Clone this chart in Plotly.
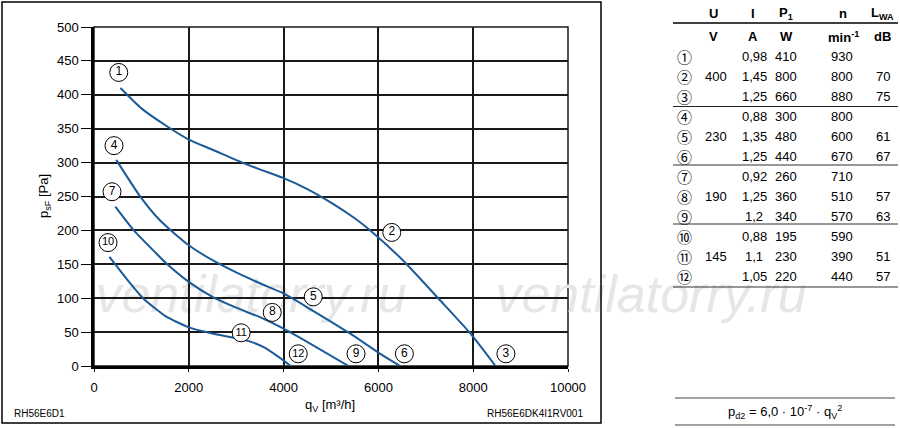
import plotly.graph_objects as go

# Fan curves (q in m3/h, p in Pa)
q_400 = [558, 1000, 1530, 2000, 2500, 3130, 3500, 4000, 4500, 5000, 5500, 5830, 6500, 7300, 7940, 8470]
p_400 = [410, 380, 354, 334, 319, 300, 290, 277, 261, 241, 218, 200, 157, 97, 48, 0]
q_230 = [470, 965, 1390, 2000, 2500, 3000, 3500, 4000, 4560, 5400, 6040, 6460]
p_230 = [304, 251, 215, 178, 156, 138, 122, 107, 84, 48, 18, 0]
q_190 = [450, 840, 1300, 1500, 2000, 2500, 3000, 3500, 4000, 4560, 5370]
p_190 = [235, 200, 167, 153, 124, 102, 86, 72, 55, 33, 0]
q_145 = [325, 450, 740, 1035, 1500, 2000, 2500, 3000, 3300, 3600, 3900, 4150]
p_145 = [161, 150, 124, 100, 74, 57, 48, 41, 36, 27, 13, 0]

# circled operating point labels
label_text = ["1", "2", "3", "4", "5", "6", "7", "8", "9", "10", "11", "12"]
label_q = [522, 6282, 8690, 422, 4626, 6548, 380, 3760, 5528, 296, 3105, 4309]
label_p = [433, 197, 18, 325, 102, 18, 257, 79, 18, 182, 49, 18]

# table
col_head1 = ["<b>U</b>", "<b>I</b>", "<b>P<sub>1</sub></b>", "<b>n</b>", "<b>L<sub>WA</sub></b>"]
col_head2 = ["<b>V</b>", "<b>A</b>", "<b>W</b>", "<b>min<sup>-1</sup></b>", "<b>dB</b>"]
row_marks = ["①", "②", "③", "④", "⑤", "⑥", "⑦", "⑧", "⑨", "⑩", "⑪", "⑫"]
u_vals = ["400", "230", "190", "145"]
i_vals = ["0,98", "1,45", "1,25", "0,88", "1,35", "1,25", "0,92", "1,25", "1,2", "0,88", "1,1", "1,05"]
p1_vals = ["410", "800", "660", "300", "480", "440", "260", "360", "340", "195", "230", "220"]
n_vals = ["930", "800", "880", "800", "600", "670", "710", "510", "570", "590", "390", "440"]
l_vals = ["", "70", "75", "", "61", "67", "", "57", "63", "", "51", "57"]

FONT = "Liberation Sans, Arial, Helvetica, sans-serif"
BLUE = "#1b5a98"

# plot area in pixels: l=94, r=568, t=27, b=366
def px_x(px):
    return (px - 94) / 474


def px_y(py):
    return (366 - py) / 339


fig = go.Figure()
for qs, ps in [(q_400, p_400), (q_230, p_230), (q_190, p_190), (q_145, p_145)]:
    fig.add_trace(
        go.Scatter(
            x=qs, y=ps, mode="lines",
            line=dict(color=BLUE, width=2, shape="spline", smoothing=0.6),
            hoverinfo="skip",
        )
    )

fig.add_trace(
    go.Scatter(
        x=label_q, y=label_p, mode="markers+text", text=label_text,
        textposition="middle center",
        textfont=dict(family=FONT, size=[12 if len(t) == 1 else 11 for t in label_text], color="black"),
        marker=dict(symbol="circle", size=18, color="white", line=dict(color="black", width=1)),
        cliponaxis=False, hoverinfo="skip",
    )
)

annotations = []


def add_text(px, py, text, size=13, xanchor="center", family=FONT, angle=0):
    annotations.append(
        dict(
            x=px_x(px), y=px_y(py), xref="paper", yref="paper", text=text,
            showarrow=False, xanchor=xanchor, yanchor="middle", textangle=angle,
            font=dict(family=family, size=size, color="black"),
        )
    )


# axis titles and footer codes
add_text(44, 196, "p<sub>sF</sub> [Pa]", size=13, angle=-90)
add_text(330, 405, "q<sub>V</sub> [m³/h]", size=13)
add_text(12, 413, "RH56E6D1", size=10, xanchor="left")
add_text(585, 413, "RH56E6DK4I1RV001", size=10, xanchor="right")

# table
col_x = [716, 754, 786, 842, 883]
head_x = [713, 753, 786, 843, 882]
for hx, h1, h2 in zip(head_x, col_head1, col_head2):
    add_text(hx, 13, h1, size=13)
    add_text(hx, 37, h2, size=13)

row_y = [56 + i * 20.07 for i in range(12)]
for i, ry in enumerate(row_y):
    add_text(684, ry, row_marks[i], size=15, family="Noto Sans CJK JP")
    add_text(col_x[1], ry, i_vals[i], size=13)
    add_text(col_x[2], ry, p1_vals[i], size=13)
    add_text(col_x[3], ry, n_vals[i], size=13)
    if l_vals[i]:
        add_text(col_x[4], ry, l_vals[i], size=13)
for g, u in enumerate(u_vals):
    add_text(col_x[0], row_y[g * 3 + 1], u, size=13)

add_text(785, 412, "p<sub>d2</sub> = 6,0 · 10<sup>-7</sup> · q<sub>V</sub><sup>2</sup>", size=13)

shapes = [
    # outer frame of the diagram
    dict(type="rect", xref="paper", yref="paper", x0=px_x(2), x1=px_x(601),
         y0=px_y(2), y1=px_y(423), line=dict(color="black", width=1.5)),
    # plot border (top / right)
    dict(type="rect", xref="paper", yref="paper", x0=0, x1=1, y0=0, y1=1,
         line=dict(color="#1a1a1a", width=1.5), layer="below"),
]
# table rules
for ly, w, c in [(23, 1.3, "black"), (106.5, 1.2, "#222"), (165, 1.2, "#333"),
                 (224, 1.2, "#333"), (287, 1.2, "#333")]:
    shapes.append(dict(type="line", xref="paper", yref="paper", x0=px_x(673), x1=px_x(898),
                       y0=px_y(ly), y1=px_y(ly), line=dict(color=c, width=w)))
for ly in [398, 425]:
    shapes.append(dict(type="line", xref="paper", yref="paper", x0=px_x(675), x1=px_x(895),
                       y0=px_y(ly), y1=px_y(ly), line=dict(color="#444", width=1.2)))
# watermark
for cx in [251, 651]:
    shapes.append(dict(
        type="rect", xref="paper", yref="paper", x0=px_x(cx - 160), x1=px_x(cx + 160),
        y0=px_y(315), y1=px_y(262), line=dict(width=0), layer="below",
        label=dict(text="ventilatorry.ru", textposition="middle center",
                   font=dict(family=FONT, size=52, color="#e6e6e6", style="italic")),
    ))

fig.update_layout(
    width=900, height=428,
    margin=dict(l=94, r=332, t=27, b=62),
    paper_bgcolor="white", plot_bgcolor="white",
    showlegend=False,
    font=dict(family=FONT, size=13, color="black"),
    annotations=annotations, shapes=shapes,
    xaxis=dict(
        range=[0, 10000], dtick=2000, tick0=0, tickformat="d",
        showgrid=True, gridcolor="#1a1a1a", gridwidth=1.5, zeroline=False,
        showline=True, linecolor="black", linewidth=2.5,
        ticks="outside", ticklen=3, tickcolor="black", ticklabelstandoff=5,
        tickfont=dict(family=FONT, size=13), fixedrange=True,
    ),
    yaxis=dict(
        range=[0, 500], dtick=50, tick0=0,
        showgrid=True, gridcolor="#1a1a1a", gridwidth=1.5, zeroline=False,
        showline=True, linecolor="black", linewidth=2.5,
        ticks="outside", ticklen=10, tickwidth=1.3, tickcolor="black",
        tickfont=dict(family=FONT, size=13), fixedrange=True,
    ),
)

# drop the browser's default body margin so the figure sits at the page origin
fig.write_html(
    "out.html",
    config={"displayModeBar": False},
    post_script="document.body.style.margin = '0px';",
)
